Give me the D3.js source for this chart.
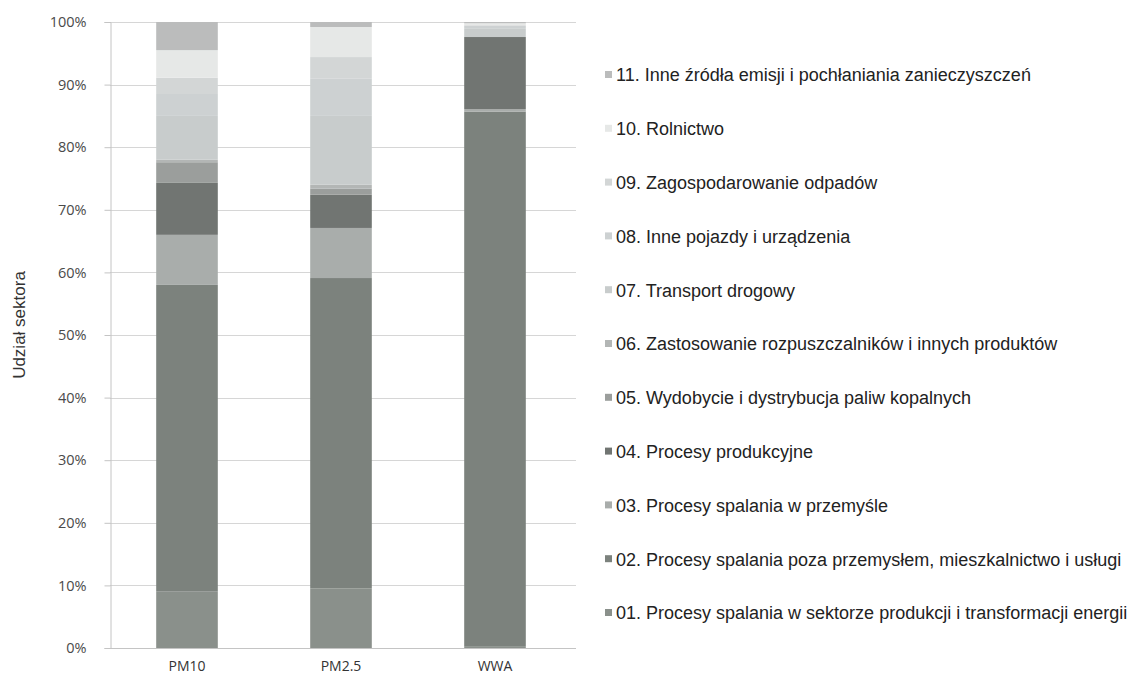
<!DOCTYPE html>
<html>
<head>
<meta charset="utf-8">
<script src="https://cdn.jsdelivr.net/npm/d3@7"></script>
<style>
  html, body { margin: 0; padding: 0; background: #fff; }
  svg { display: block; }
</style>
</head>
<body>
<svg id="chart" width="1141" height="679"></svg>
<script>
// ---- Data (shares, %) ----
const categories = ["PM10", "PM2.5", "WWA"];
const seriesNames = [
  "01. Procesy spalania w sektorze produkcji i transformacji energii",
  "02. Procesy spalania poza przemysłem, mieszkalnictwo i usługi",
  "03. Procesy spalania w przemyśle",
  "04. Procesy produkcyjne",
  "05. Wydobycie i dystrybucja paliw kopalnych",
  "06. Zastosowanie rozpuszczalników i innych produktów",
  "07. Transport drogowy",
  "08. Inne pojazdy i urządzenia",
  "09. Zagospodarowanie odpadów",
  "10. Rolnictwo",
  "11. Inne źródła emisji i pochłaniania zanieczyszczeń"
];
const valuesPM10 = [9.0, 49.0, 8.0, 8.3, 3.3, 0.4, 7.0, 3.5, 2.6, 4.4, 4.5];
const valuesPM25 = [9.5, 49.6, 8.0, 5.3, 1.0, 0.6, 11.0, 6.0, 3.4, 4.8, 0.8];
const valuesWWA  = [0.3, 85.4, 0.4, 11.5, 0.0, 0.0, 1.4, 0.4, 0.1, 0.3, 0.2];
const yTicks = [0, 10, 20, 30, 40, 50, 60, 70, 80, 90, 100];
const yTitle = "Udział sektora";

// ---- Styles ----
const colors = ["#8a908b", "#7c827d", "#a9adab", "#717572", "#9b9e9c", "#b3b6b5",
                "#c8cccc", "#cdd1d2", "#d3d6d6", "#e6e8e7", "#bbbcbc"];

const rows = categories.map((c, i) => {
  const vals = [valuesPM10, valuesPM25, valuesWWA][i];
  const o = { cat: c };
  seriesNames.forEach((s, j) => o[s] = vals[j]);
  return o;
});

const svg = d3.select("#chart");
const plotL = 110, plotR = 572, plotT = 22, plotB = 648;

const x = d3.scaleBand().domain(categories).range([plotL, plotR])
  .paddingInner(0.6).paddingOuter(0.3);
const y = d3.scaleLinear().domain([0, 100]).range([plotB, plotT]);

// gridlines
svg.append("g").selectAll("line").data(yTicks.filter(t => t > 0)).join("line")
  .attr("x1", plotL).attr("x2", 576)
  .attr("y1", d => Math.round(y(d)) + 0.5).attr("y2", d => Math.round(y(d)) + 0.5)
  .attr("stroke", "#d6d6d6").attr("stroke-width", 1);

// stacked bars
const stack = d3.stack().keys(seriesNames);
const stacked = stack(rows);
svg.append("g").selectAll("g").data(stacked).join("g")
  .attr("fill", (d, i) => colors[i])
  .selectAll("rect").data(d => d).join("rect")
  .attr("x", d => x(d.data.cat))
  .attr("width", x.bandwidth())
  .attr("y", d => y(d[1]))
  .attr("height", d => Math.max(0, y(d[0]) - y(d[1])));

// y axis
const yAxis = d3.axisLeft(y).tickValues(yTicks).tickFormat(d => d + "%")
  .tickSize(6).tickPadding(18);
const ya = svg.append("g").attr("transform", `translate(${plotL + 0.5},0)`).call(yAxis);
ya.select(".domain").attr("stroke", "#c4c4c4");
ya.selectAll(".tick line").attr("stroke", "#c4c4c4");
ya.selectAll(".tick text").attr("font-family", "'Open Sans', sans-serif")
  .attr("font-size", 14.5).attr("fill", "#4a4a4a");

// x axis
const xAxis = d3.axisBottom(x).tickSize(0).tickPadding(13);
const xa = svg.append("g").attr("transform", `translate(0,${plotB + 0.5})`).call(xAxis);
xa.select(".domain").attr("stroke", "#c4c4c4").attr("d", `M${plotL},0H576`);
xa.selectAll(".tick text").attr("font-family", "'Open Sans', sans-serif")
  .attr("font-size", 14).attr("fill", "#333");

// y title
svg.append("text")
  .attr("transform", `translate(25,${325}) rotate(-90)`)
  .attr("text-anchor", "middle")
  .attr("font-family", "'Liberation Sans', Arial, sans-serif")
  .attr("font-size", 17).attr("fill", "#333")
  .text(yTitle);

// legend (top entry = last series)
const legendY = d3.scaleLinear().domain([10, 0]).range([75, 613]);
const lg = svg.append("g").selectAll("g").data(seriesNames.map((s, i) => ({ s, i }))).join("g")
  .attr("transform", d => `translate(605,${legendY(d.i)})`);
lg.append("rect").attr("x", 0).attr("y", -4).attr("width", 7).attr("height", 7)
  .attr("fill", d => colors[d.i]);
lg.append("text").attr("x", 11).attr("y", 0).attr("dy", "0.35em")
  .attr("font-family", "'Liberation Sans', Arial, sans-serif")
  .attr("font-size", 18).attr("fill", "#222")
  .text(d => d.s);
</script>
</body>
</html>
